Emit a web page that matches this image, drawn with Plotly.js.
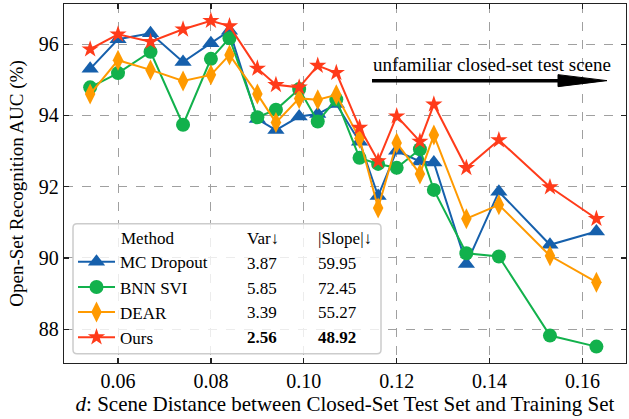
<!DOCTYPE html>
<html>
<head>
<meta charset="utf-8">
<script src="https://cdn.plot.ly/plotly-3.0.1.min.js"></script>
<style>html,body{margin:0;padding:0;background:#fff;}#chart{width:629px;height:419px;}</style>
</head>
<body>
<div id="chart"></div>
<script>
// Scene distance d
const distance = [0.054, 0.060, 0.067, 0.074, 0.080, 0.084, 0.090, 0.094, 0.099, 0.103,
                  0.107, 0.112, 0.116, 0.120, 0.125, 0.128, 0.135, 0.142, 0.153, 0.163];
const mcDropout = [95.31, 96.14, 96.31, 95.50, 96.03, 96.38, 93.90, 93.59, 93.97, 94.04,
                   94.32, 93.26, 91.74, 93.01, 92.71, 92.68, 89.83, 91.86, 90.37, 90.74];
const bnnSvi    = [94.79, 95.19, 95.79, 93.74, 95.59, 96.17, 93.95, 94.16, 94.74, 93.83,
                   94.45, 92.81, 92.64, 92.53, 93.05, 91.91, 90.13, 90.04, 87.82, 87.51];
const dear      = [94.60, 95.55, 95.28, 94.97, 95.14, 95.70, 94.60, 93.80, 94.48, 94.44,
                   94.58, 93.36, 91.40, 93.23, 92.36, 93.45, 91.10, 91.49, 90.06, 89.32];
const ours      = [95.86, 96.28, 96.07, 96.42, 96.66, 96.51, 95.32, 94.86, 94.79, 95.40,
                   95.20, 93.66, 92.72, 93.98, 93.27, 94.31, 92.53, 93.31, 91.99, 91.10];

const methods  = ["MC Dropout", "BNN SVI", "DEAR", "Ours"];
const varVals  = ["3.87", "5.85", "3.39", "2.56"];
const slopeVals = ["59.95", "72.45", "55.27", "48.92"];
const yTicks = [88, 90, 92, 94, 96];

const FONT = "Liberation Serif, Times New Roman, serif";
const colors = ["#1660ac", "#12b14c", "#ff9a00", "#ff3b1a"];
const symbols = ["triangle-up", "circle", "diamond-tall", "star"];
const sizes = [15, 14, 15, 13];
const series = [mcDropout, bnnSvi, dear, ours];

const traces = series.map((ys, i) => ({
  x: distance, y: ys, type: "scatter", mode: "lines+markers", name: methods[i],
  line: {color: colors[i], width: 2},
  marker: {color: colors[i], symbol: symbols[i], size: sizes[i], line: {width: 0}}
}));

// plot-area pixel helpers for the annotation/legend layout (paper coords)
const L = 64, R = 626, T = 4, B = 363.3;
const px = x => (x - L) / (R - L);
const py = y => (B - y) / (B - T);

const rowY = [263.3, 288.3, 313.0, 337.7];
const annotations = [
  {text: "Method", x: px(119), y: py(238.3)},
  {text: "Var\u2193", x: px(245), y: py(238.3)},
  {text: "|Slope|\u2193", x: px(316), y: py(238.3)}
];
methods.forEach((m, i) => {
  const b = i === 3;
  annotations.push({text: b ? "<b>" + varVals[i] + "</b>" : varVals[i], x: px(245), y: py(rowY[i])});
  annotations.push({text: b ? "<b>" + slopeVals[i] + "</b>" : slopeVals[i], x: px(316), y: py(rowY[i])});
});
annotations.forEach(a => Object.assign(a, {xref: "paper", yref: "paper", xanchor: "left", yanchor: "middle",
  showarrow: false, font: {family: FONT, size: 17, color: "#000"}}));
annotations.push({text: "unfamiliar closed-set test scene", xref: "paper", yref: "paper",
  x: px(371), y: py(65), xanchor: "left", yanchor: "middle", showarrow: false,
  font: {family: FONT, size: 19, color: "#000"}});

// rounded legend box
function roundRect(x0, y0, x1, y1, r) {
  const X0 = px(x0), X1 = px(x1), Y0 = py(y0), Y1 = py(y1);
  const rx = r / (R - L), ry = r / (B - T);
  return `M${X0 + rx},${Y0} L${X1 - rx},${Y0} Q${X1},${Y0} ${X1},${Y0 - ry} L${X1},${Y1 + ry} Q${X1},${Y1} ${X1 - rx},${Y1} L${X0 + rx},${Y1} Q${X0},${Y1} ${X0},${Y1 + ry} L${X0},${Y0 - ry} Q${X0},${Y0} ${X0 + rx},${Y0} Z`;
}
const shapes = [
  {type: "path", xref: "paper", yref: "paper", layer: "above", path: roundRect(73, 224, 381, 354, 4),
   fillcolor: "rgba(255,255,255,0.8)", line: {color: "#cccccc", width: 1.5}},
  {type: "line", xref: "paper", yref: "paper", x0: px(372), x1: px(562), y0: py(80.7), y1: py(80.7),
   line: {color: "#000", width: 3.5}},
  {type: "path", xref: "paper", yref: "paper",
   path: `M${px(558)},${py(74.7)} L${px(607)},${py(80.7)} L${px(558)},${py(86.7)} Z`,
   fillcolor: "#000", line: {color: "#000", width: 1}}
];

const axisCommon = {
  showline: true, linecolor: "#222", linewidth: 1.3, mirror: "ticks",
  ticks: "inside", ticklen: 5, tickwidth: 1.2, tickcolor: "#222",
  showgrid: true, gridcolor: "#a0a0a0", griddash: "dash", gridwidth: 1,
  zeroline: false, tickfont: {family: FONT, size: 20, color: "#000"}
};

const layout = {
  width: 629, height: 419,
  margin: {l: L, r: 629 - R, t: T, b: 419 - B},
  paper_bgcolor: "#fff", plot_bgcolor: "#fff",
  showlegend: true,
  legend: {x: px(73), y: py(244.5), xanchor: "left", yanchor: "top", bgcolor: "rgba(0,0,0,0)",
           borderwidth: 0, font: {family: FONT, size: 17, color: "#000"}, itemwidth: 37, tracegroupgap: 0},
  xaxis: Object.assign({}, axisCommon, {
    range: [0.04837, 0.16937], dtick: 0.02, tick0: 0.06, tickformat: ".2f",
    title: {text: "<i>d</i>: Scene Distance between Closed-Set Test Set and Training Set",
            font: {family: FONT, size: 21, color: "#000"}, standoff: 4}
  }),
  yaxis: Object.assign({}, axisCommon, {
    range: [87.05, 97.13], tickvals: yTicks, ticktext: yTicks.map(String),
    title: {text: "Open-Set Recognition AUC (%)", font: {family: FONT, size: 19, color: "#000"}, standoff: 10}
  }),
  annotations: annotations,
  shapes: shapes
};

Plotly.newPlot("chart", traces, layout, {displayModeBar: false, staticPlot: true});
</script>
</body>
</html>
